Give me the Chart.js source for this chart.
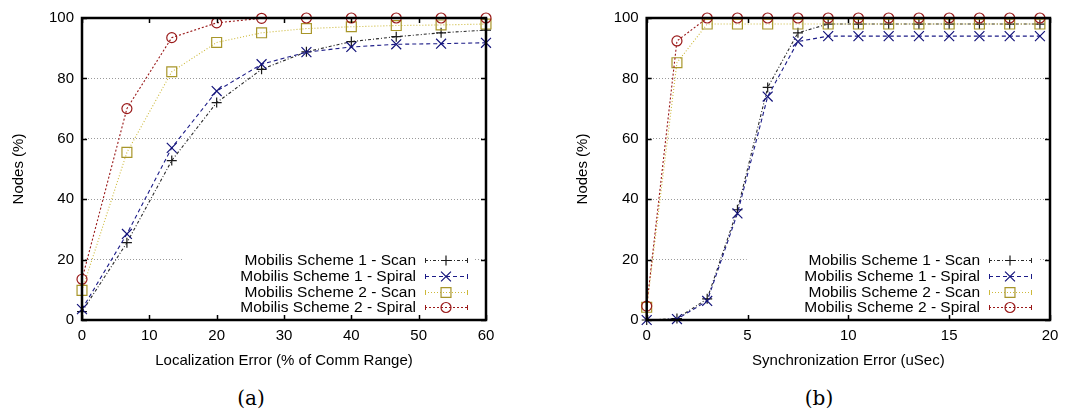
<!DOCTYPE html>
<html>
<head>
<meta charset="utf-8">
<script src="https://cdn.jsdelivr.net/npm/chart.js@4/dist/chart.umd.min.js"></script>
<style>
  html, body { margin: 0; padding: 0; background: #fff; }
  #fig { position: relative; width: 1080px; height: 410px; overflow: hidden; }
  .panel { position: absolute; top: 0; width: 540px; height: 370px; }
  .cap { position: absolute; top: 386px; width: 80px; text-align: center;
         font: 20px "DejaVu Serif", "Liberation Serif", serif; line-height: 24px; color: #000; }
</style>
</head>
<body>
<div id="fig">
  <div class="panel" style="left:0"><canvas id="locChart" width="540" height="370"></canvas></div>
  <div class="panel" style="left:540px"><canvas id="syncChart" width="540" height="370"></canvas></div>
  <div class="cap" style="left:211px">(a)</div>
  <div class="cap" style="left:779px">(b)</div>
</div>
<script>
// ---- data ----
const seriesNames = [
  'Mobilis Scheme 1 - Scan',
  'Mobilis Scheme 1 - Spiral',
  'Mobilis Scheme 2 - Scan',
  'Mobilis Scheme 2 - Spiral'
];

// (a) nodes (%) vs localization error (% of comm range)
const locError = [0, 6.67, 13.33, 20, 26.67, 33.33, 40, 46.67, 53.33, 60];
const locScheme1Scan   = [2.8, 25.6, 52.8, 72.0, 83.0, 88.8, 92.2, 93.8, 95.1, 96.0];
const locScheme1Spiral = [3.6, 28.5, 57.0, 75.8, 84.7, 88.7, 90.4, 91.3, 91.5, 91.8];
const locScheme2Scan   = [9.8, 55.5, 82.2, 91.9, 95.1, 96.5, 97.1, 97.5, 97.7, 98.0];
const locScheme2Spiral = [13.5, 70.0, 93.5, 98.4, 99.9, 100, 100, 100, 100, 100];
const locTicksX = [0, 10, 20, 30, 40, 50, 60];

// (b) nodes (%) vs synchronization error (uSec)
const syncError = [0, 1.5, 3, 4.5, 6, 7.5, 9, 10.5, 12, 13.5, 15, 16.5, 18, 19.5];
const syncScheme1Scan   = [0, 0.5, 7.0, 36.5, 77.0, 95.1, 98.0, 98.0, 98.0, 98.0, 98.0, 98.0, 98.0, 98.0];
const syncScheme1Spiral = [0, 0.3, 6.3, 35.3, 74.0, 92.2, 94.0, 94.0, 94.0, 94.0, 94.0, 94.0, 94.0, 94.0];
const syncScheme2Scan   = [4.2, 85.2, 98.0, 98.0, 98.0, 98.0, 98.0, 98.0, 98.0, 98.0, 98.0, 98.0, 98.0, 98.0];
const syncScheme2Spiral = [4.6, 92.4, 100, 100, 100, 100, 100, 100, 100, 100, 100, 100, 100, 100];
const syncTicksX = [0, 5, 10, 15, 20];

const nodeTicksY = [0, 20, 40, 60, 80, 100];

// ---- styles ----
const seriesStyles = [
  { line: '#2a2a2a', point: '#1a1a1a', dash: [3, 2, 1, 2], style: 'cross',    r: 5, order: 3 },
  { line: '#1c1c88', point: '#12127a', dash: [4, 3],       style: 'crossRot', r: 7, order: 2 },
  { line: '#cdb93a', point: '#a8962a', dash: [1, 2],       style: 'rect',     r: 7, order: 1 },
  { line: '#9a1a1a', point: '#9a1a1a', dash: [2, 2],       style: 'circle',   r: 5, order: 0 }
];

const SANS = '"Liberation Sans", Arial, Helvetica, sans-serif';

function makeDatasets(xs, seriesList) {
  return seriesList.map((vals, i) => {
    const s = seriesStyles[i];
    return {
      label: seriesNames[i],
      data: xs.map((x, k) => ({ x: x, y: vals[k] })),
      borderColor: s.line,
      borderWidth: 1.1,
      borderDash: s.dash,
      pointStyle: s.style,
      pointRadius: s.r,
      pointHoverRadius: s.r,
      pointBorderColor: s.point,
      pointBackgroundColor: 'rgba(0,0,0,0)',
      pointBorderWidth: 1.2,
      tension: 0,
      fill: false,
      clip: false,
      order: s.order
    };
  });
}

function drawMarker(ctx, style, x, y, r, color) {
  ctx.save();
  ctx.strokeStyle = color;
  ctx.lineWidth = 1.2;
  ctx.setLineDash([]);
  ctx.beginPath();
  if (style === 'circle') {
    ctx.arc(x, y, r, 0, Math.PI * 2);
  } else if (style === 'rect') {
    const h = r * Math.SQRT1_2;
    ctx.rect(x - h, y - h, 2 * h, 2 * h);
  } else if (style === 'cross') {
    ctx.moveTo(x, y - r); ctx.lineTo(x, y + r);
    ctx.moveTo(x - r, y); ctx.lineTo(x + r, y);
  } else if (style === 'crossRot') {
    const h = r * Math.SQRT1_2;
    ctx.moveTo(x - h, y - h); ctx.lineTo(x + h, y + h);
    ctx.moveTo(x + h, y - h); ctx.lineTo(x - h, y + h);
  }
  ctx.stroke();
  ctx.restore();
}

// opaque key box in the lower right of the plot area
function drawKey(chart) {
  const { ctx, chartArea: a } = chart;
  const sets = chart.data.datasets;
  const rowH = 15.8;
  const firstY = a.top + 242;
  ctx.save();
  ctx.fillStyle = '#fff';
  ctx.fillRect(a.left + 100, firstY - 9, a.right - 12 - (a.left + 100), rowH * (sets.length - 1) + 17);
  ctx.font = '15.5px ' + SANS;
  ctx.textAlign = 'right';
  ctx.textBaseline = 'middle';
  sets.forEach((ds, i) => {
    const yy = Math.round(firstY + i * rowH);
    ctx.fillStyle = '#000';
    ctx.fillText(ds.label, a.right - 70, yy + 1);
    const x0 = a.right - 61, x1 = a.right - 18, xm = a.right - 40;
    ctx.strokeStyle = ds.borderColor;
    ctx.lineWidth = 1;
    ctx.setLineDash(ds.borderDash);
    ctx.beginPath();
    ctx.moveTo(x0, yy + 0.5); ctx.lineTo(x1, yy + 0.5);
    ctx.stroke();
    ctx.setLineDash([]);
    ctx.beginPath();
    ctx.moveTo(x0 + 0.5, yy - 2); ctx.lineTo(x0 + 0.5, yy + 3);
    ctx.moveTo(x1 - 0.5, yy - 2); ctx.lineTo(x1 - 0.5, yy + 3);
    ctx.stroke();
    drawMarker(ctx, ds.pointStyle, xm, yy + 0.5, ds.pointRadius, ds.pointBorderColor);
  });
  ctx.restore();
}

// key, then the closed frame with inward mirrored tics
const framePlugin = {
  id: 'gnuFrame',
  afterDatasetsDraw(chart) {
    drawKey(chart);
    const { ctx, chartArea: a, scales } = chart;
    const xs = scales.x, ys = scales.y;
    const tl = 5;
    ctx.save();
    ctx.strokeStyle = '#000';
    ctx.lineWidth = 1.5;
    ctx.beginPath();
    xs.ticks.forEach(t => {
      const px = Math.round(xs.getPixelForValue(t.value)) + 0.5;
      ctx.moveTo(px, a.bottom); ctx.lineTo(px, a.bottom - tl);
      ctx.moveTo(px, a.top); ctx.lineTo(px, a.top + tl);
    });
    ys.ticks.forEach(t => {
      const py = Math.round(ys.getPixelForValue(t.value)) + 0.5;
      ctx.moveTo(a.left, py); ctx.lineTo(a.left + tl, py);
      ctx.moveTo(a.right, py); ctx.lineTo(a.right - tl, py);
    });
    ctx.stroke();
    ctx.lineWidth = 2.5;
    ctx.strokeRect(a.left, a.top, a.right - a.left, a.bottom - a.top);
    ctx.restore();
  }
};

function makeChart(canvasId, xs, seriesList, xMax, xTickVals, xTitle, yAxisWidth, rightPad, yTitlePad) {
  return new Chart(document.getElementById(canvasId), {
    type: 'line',
    data: { datasets: makeDatasets(xs, seriesList) },
    options: {
      responsive: false,
      animation: false,
      devicePixelRatio: 1,
      events: [],
      layout: { padding: { left: 0, right: rightPad, top: 18, bottom: 0 } },
      plugins: { legend: { display: false }, tooltip: { enabled: false } },
      scales: {
        x: {
          type: 'linear',
          min: 0,
          max: xMax,
          afterBuildTicks: s => { s.ticks = xTickVals.map(v => ({ value: v })); },
          afterFit: s => { s.height = 50; },
          grid: { display: false, drawTicks: false },
          border: { display: false },
          ticks: { color: '#000', font: { family: SANS, size: 15 }, padding: 7, maxRotation: 0, autoSkip: false },
          title: { display: true, text: xTitle, color: '#000', font: { family: SANS, size: 15 }, padding: { top: 0, bottom: 0 } }
        },
        y: {
          min: 0,
          max: 100,
          afterBuildTicks: s => { s.ticks = nodeTicksY.map(v => ({ value: v })); },
          afterFit: s => { s.width = yAxisWidth; },
          grid: {
            drawTicks: false,
            lineWidth: 1,
            color: c => (c.tick && c.tick.value > 0 && c.tick.value < 100) ? '#9a9a9a' : 'rgba(0,0,0,0)'
          },
          border: { display: false, dash: [1, 2] },
          ticks: { color: '#000', font: { family: SANS, size: 15 }, padding: 8, autoSkip: false },
          title: { display: true, text: 'Nodes (%)', color: '#000', font: { family: SANS, size: 15 }, padding: { top: yTitlePad, bottom: 0 } }
        }
      }
    },
    plugins: [framePlugin]
  });
}

makeChart('locChart', locError,
  [locScheme1Scan, locScheme1Spiral, locScheme2Scan, locScheme2Spiral],
  60, locTicksX, 'Localization Error (% of Comm Range)', 82, 54, 9.5);

makeChart('syncChart', syncError,
  [syncScheme1Scan, syncScheme1Spiral, syncScheme2Scan, syncScheme2Spiral],
  20, syncTicksX, 'Synchronization Error (uSec)', 106.7, 30, 34.3);
</script>
</body>
</html>
